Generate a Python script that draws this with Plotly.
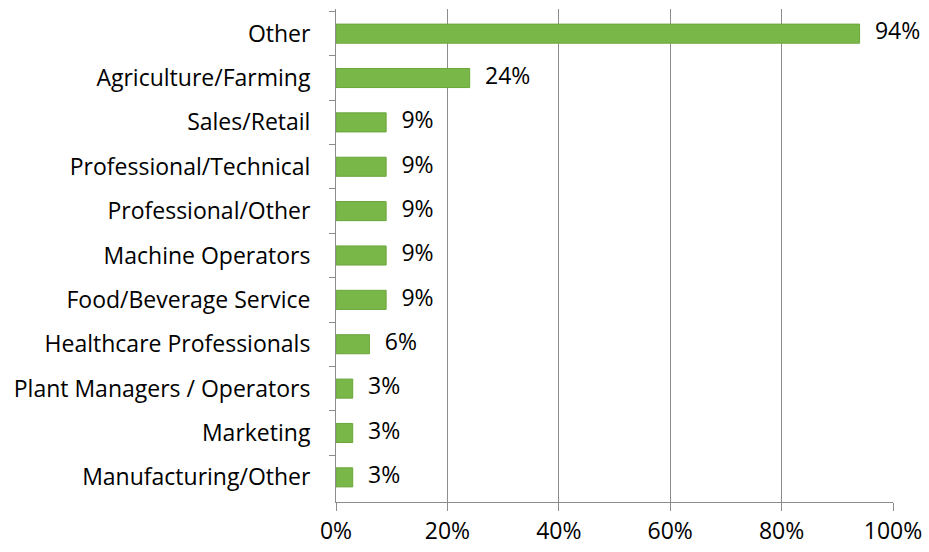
import plotly.graph_objects as go

categories = ["Other", "Agriculture/Farming", "Sales/Retail", "Professional/Technical",
              "Professional/Other", "Machine Operators", "Food/Beverage Service",
              "Healthcare Professionals", "Plant Managers / Operators", "Marketing",
              "Manufacturing/Other"]
values = [94, 24, 9, 9, 9, 9, 9, 6, 3, 3, 3]
value_labels = [f"{v}%" for v in values]
x_tick_values = [0, 20, 40, 60, 80, 100]
x_tick_labels = ["0%", "20%", "40%", "60%", "80%", "100%"]

FONT = "'Open Sans', Lato, sans-serif"
FSIZE = 23

fig = go.Figure()
fig.add_trace(go.Bar(
    x=values, y=categories, orientation="h",
    marker=dict(color="#7ab749", line=dict(color="#6aa63a", width=1)),
    hoverinfo="skip",
))
fig.add_trace(go.Scatter(
    x=values, y=categories, mode="text",
    text=["\u2002\u2009" + t for t in value_labels],
    textposition="middle right", cliponaxis=False,
    textfont=dict(family=FONT, size=FSIZE, color="#000000"),
    hoverinfo="skip",
))

fig.update_layout(
    width=929, height=552,
    margin=dict(l=336, r=36, t=9, b=50),
    paper_bgcolor="white", plot_bgcolor="white",
    showlegend=False, bargap=0.57,
    font=dict(family=FONT, size=FSIZE, color="#000000"),
)
fig.update_xaxes(
    range=[0, 100], tickvals=x_tick_values, ticktext=x_tick_labels,
    showgrid=True, gridcolor="#8c8c8c", gridwidth=1,
    showline=True, linecolor="#8c8c8c", linewidth=1,
    ticks="outside", ticklen=8, tickcolor="#8c8c8c",
    zeroline=False, fixedrange=True, automargin=False,
)
fig.update_yaxes(
    categoryorder="array", categoryarray=categories, autorange="reversed",
    showline=True, linecolor="#8c8c8c", linewidth=1,
    ticks="outside", ticklen=6, tickcolor="#8c8c8c", tickson="boundaries",
    ticklabelstandoff=20, showgrid=False, fixedrange=True, automargin=False,
)
fig.write_html("out.html", config={"displayModeBar": False},
               post_script="document.body.style.margin='0';")
